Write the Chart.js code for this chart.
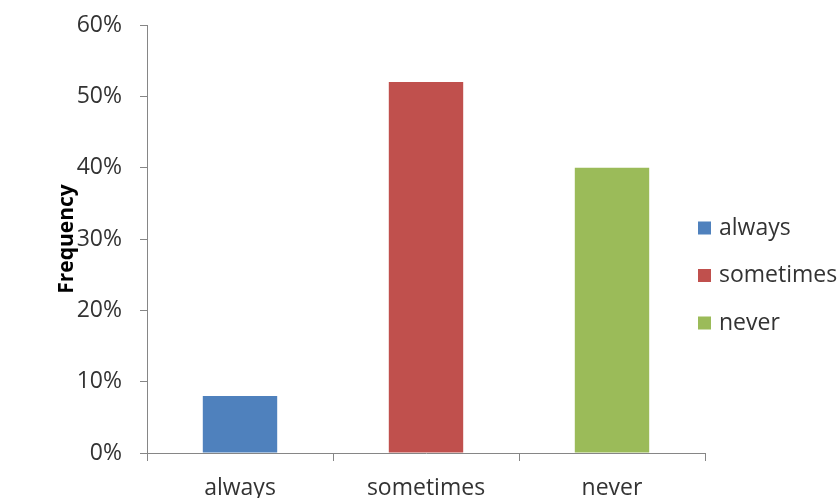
<!DOCTYPE html>
<html>
<head>
<meta charset="utf-8">
<script src="https://cdn.jsdelivr.net/npm/chart.js@4/dist/chart.umd.min.js"></script>
<style>
  body { margin: 0; background: #fff; }
  canvas { display: block; }
</style>
</head>
<body>
<canvas id="myChart" width="840" height="498"></canvas>
<script>
// respuestas y su frecuencia (%)
const categorias = ['always', 'sometimes', 'never']
const frecuencia = [8, 52, 40]
const colores = ['#4F81BD', '#C0504D', '#9BBB59']
const ticksY = [0, 10, 20, 30, 40, 50, 60]

const colorEje = '#868686'
const colorTexto = '#333333'
const fuente = '"Open Sans", sans-serif'

/**
 * leyenda a la derecha, encima del borde del área del gráfico
 */
const leyendaPlugin = {
  id: 'leyenda',
  afterDraw(chart) {
    const ctx = chart.ctx
    const meta = chart.getDatasetMeta(0)
    const x = chart.chartArea.right - 7
    ctx.save()
    ctx.font = '23px ' + fuente
    ctx.textBaseline = 'middle'
    ctx.textAlign = 'left'
    categorias.forEach((cat, i) => {
      const y = 228 + i * 47.5
      ctx.fillStyle = meta.data[i].options.backgroundColor
      ctx.fillRect(x, y - 6.5, 13, 13)
      ctx.fillStyle = colorTexto
      ctx.fillText(cat, x + 21, y)
    })
    ctx.restore()
  }
}

const ctx = document.getElementById('myChart')

let chart = new Chart(ctx, {
  type: 'bar',
  data: {
    labels: categorias,
    datasets: [{
      label: 'Frequency',
      data: frecuencia,
      backgroundColor: colores,
      barPercentage: 0.5,
      categoryPercentage: 0.8
    }]
  },
  options: {
    responsive: false,
    animation: false,
    layout: { padding: { top: 25, right: 135, left: 0, bottom: 0 } },
    plugins: {
      legend: { display: false },
      tooltip: { enabled: false }
    },
    scales: {
      x: {
        grid: { drawOnChartArea: false, drawTicks: true, tickLength: 8, color: colorEje, offset: true },
        border: { color: colorEje, width: 1 },
        ticks: { color: colorTexto, font: { family: fuente, size: 23 }, padding: 14, maxRotation: 0 },
        afterFit(scale) { scale.height = 45 }
      },
      y: {
        min: 0,
        max: 60,
        afterBuildTicks(scale) { scale.ticks = ticksY.map(v => ({ value: v })) },
        grid: { drawOnChartArea: false, drawTicks: true, tickLength: 7, color: colorEje },
        border: { color: colorEje, width: 1 },
        ticks: {
          color: colorTexto,
          font: { family: fuente, size: 23 },
          padding: 18,
          callback: v => v + '%'
        },
        title: {
          display: true,
          text: 'Frequency',
          color: '#000',
          font: { family: fuente, size: 21, weight: 'bold' },
          padding: { top: 54, bottom: 0 }
        },
        afterFit(scale) {
          scale.width = 147
          // sin margen extra por la etiqueta superior
          scale.paddingTop = 0
          scale.paddingBottom = 0
        }
      }
    }
  },
  plugins: [leyendaPlugin]
})
</script>
</body>
</html>
